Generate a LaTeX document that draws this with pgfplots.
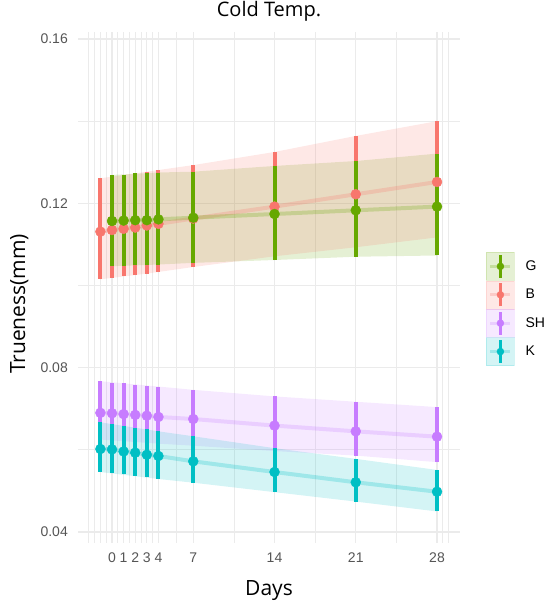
\documentclass[border=0pt]{standalone}
\usepackage{fontspec}
\setmainfont{Liberation Sans}
\newfontfamily\labfont{Open Sans}
\usepackage{pgfplots}
\pgfplotsset{compat=1.18}
\usepackage{pgfplotstable}

\definecolor{cG}{HTML}{66A800}
\definecolor{cB}{HTML}{F8766D}
\definecolor{cSH}{HTML}{C77CFF}
\definecolor{cK}{HTML}{00BFC4}
\definecolor{gridc}{HTML}{EBEBEB}
\definecolor{tickc}{HTML}{555555}

% point ranges: x, estimate, lower, upper
\pgfplotstableread{
x y lo hi
0 0.1157 0.1047 0.1269
1 0.1158 0.1048 0.1270
2 0.1159 0.1049 0.1273
3 0.1159 0.1050 0.1274
4 0.1161 0.1051 0.1275
7 0.1165 0.1055 0.1277
14 0.1174 0.1062 0.1291
21 0.1183 0.1070 0.1303
28 0.1192 0.1073 0.1321
}\tabG

\pgfplotstableread{
x y lo hi
-1 0.1131 0.1015 0.1261
0 0.1135 0.1019 0.1265
1 0.1138 0.1023 0.1269
2 0.1141 0.1026 0.1273
3 0.1146 0.1029 0.1277
4 0.1150 0.1032 0.1281
7 0.1163 0.1045 0.1293
14 0.1192 0.1071 0.1325
21 0.1222 0.1093 0.1364
28 0.1252 0.1117 0.1400
}\tabB

\pgfplotstableread{
x y lo hi
-1 0.0690 0.0625 0.0767
0 0.0689 0.0624 0.0763
1 0.0687 0.0622 0.0762
2 0.0685 0.0620 0.0759
3 0.0683 0.0618 0.0756
4 0.0680 0.0615 0.0754
7 0.0675 0.0610 0.0746
14 0.0659 0.0597 0.0730
21 0.0645 0.0586 0.0717
28 0.0632 0.0570 0.0704
}\tabSH

\pgfplotstableread{
x y lo hi
-1 0.0602 0.0546 0.0667
0 0.0601 0.0543 0.0663
1 0.0596 0.0541 0.0659
2 0.0593 0.0537 0.0654
3 0.0588 0.0533 0.0650
4 0.0585 0.0529 0.0645
7 0.0572 0.0520 0.0633
14 0.0546 0.0497 0.0604
21 0.0521 0.0474 0.0578
28 0.0498 0.0450 0.0551
}\tabK

% confidence bands as closed outlines (lower edge forward, upper edge back)
\pgfplotstableread{
x v
0 0.1047
4 0.1051
7 0.1055
14 0.1062
21 0.1070
28 0.1073
28 0.1321
21 0.1303
14 0.1291
7 0.1277
4 0.1275
0 0.1269
}\bandG

\pgfplotstableread{
x v
-1 0.1015
3 0.1029
7 0.1045
14 0.1071
21 0.1093
28 0.1117
28 0.1400
21 0.1364
14 0.1325
7 0.1293
3 0.1277
-1 0.1261
}\bandB

\pgfplotstableread{
x v
-1 0.0625
4 0.0615
7 0.0610
14 0.0597
21 0.0586
28 0.0570
28 0.0704
21 0.0717
14 0.0730
7 0.0746
4 0.0754
-1 0.0767
}\bandSH

\pgfplotstableread{
x v
-1 0.0546
4 0.0529
7 0.0520
14 0.0497
21 0.0474
28 0.0450
28 0.0551
21 0.0578
14 0.0604
7 0.0633
4 0.0645
-1 0.0667
}\bandK

\newcommand{\band}[2]{%
\addplot[fill=c#1, fill opacity=0.17, draw=none, forget plot] table[x=x,y=v]{#2} -- cycle;
}
\newcommand{\trend}[2]{%
\addplot[c#1, line width=4pt, opacity=0.25, forget plot] table[x=x,y=y]{#2};
}
\newcommand{\prange}[2]{%
\addplot[c#1, only marks, mark=*, mark size=5pt, mark options={draw=c#1, fill=c#1}, forget plot,
  error bars/.cd, y dir=both, y explicit, error mark=none,
  error bar style={line width=4pt, c#1}]
  table[x=x, y=y, y error plus expr=\thisrow{hi}-\thisrow{y}, y error minus expr=\thisrow{y}-\thisrow{lo}]{#2};
}
\newcommand{\legkey}[1]{%
\addlegendimage{legend image code/.code={%
 \fill[#1, opacity=0.17] (0pt,-14pt) rectangle (28pt,14pt);
 \draw[#1, opacity=0.25, line width=3pt] (4pt,0pt) -- (24pt,0pt);
 \draw[#1, line width=2.5pt] (14pt,-11.5pt) -- (14pt,11.5pt);
 \fill[#1] (14pt,0pt) circle (3.5pt);}}}

\begin{document}
\begin{tikzpicture}
\path[use as bounding box] (0pt,0pt) rectangle (550pt,-607pt);
\begin{axis}[
  at={(78pt,-32pt)}, anchor=north west,
  scale only axis, width=382pt, height=511pt,
  xmin=-2.93, xmax=29.98, ymin=0.03732, ymax=0.1617,
  axis line style={draw=none},
  major tick length=0pt, minor tick length=0pt,
  xtick={0,1,2,3,4,7,14,21,28},
  xticklabels={0,1,2,3,4,7,14,21,28},
  minor xtick={-2,-1.5,-1,-0.5,0.5,1.5,2.5,3.5,5.5,10.5,17.5,24.5,28.5,29},
  ytick={0.04,0.08,0.12,0.16},
  yticklabels={0.04,0.08,0.12,0.16},
  minor ytick={0.06,0.10,0.14},
  grid=both,
  major grid style={draw=gridc, line width=1.1pt},
  minor grid style={draw=gridc, line width=0.7pt},
  ticklabel style={font=\fontsize{14}{16}\selectfont, color=tickc, inner sep=0pt},
  xticklabel style={anchor=north, yshift=-10pt},
  yticklabel style={anchor=east, xshift=-10pt},
  title={Cold Temp.},
  title style={font=\labfont\fontsize{20}{24}\selectfont, at={(axis description cs:0.5,1.0182)}, anchor=base, inner sep=0pt},
  xlabel={Days},
  xlabel style={font=\labfont\fontsize{21}{25}\selectfont, at={(axis description cs:0.5,-0.1037)}, anchor=base, inner sep=0pt},
  ylabel={Trueness(mm)},
  ylabel style={font=\labfont\fontsize{21}{25}\selectfont, at={(axis description cs:-0.1387,0.468)}, anchor=base, inner sep=0pt},
  legend style={at={(axis description cs:1.0681,0.5695)}, anchor=north west, draw=none, fill=none,
    inner sep=0pt, row sep=0pt, column sep=11pt, font=\fontsize{14}{16}\selectfont,
    nodes={inner sep=0pt}},
  legend cell align=left,
]
\legkey{cG}
\legkey{cB}
\legkey{cSH}
\legkey{cK}
\band{G}{\bandG}
\band{B}{\bandB}
\band{SH}{\bandSH}
\band{K}{\bandK}
\trend{B}{\tabB}
\trend{G}{\tabG}
\trend{SH}{\tabSH}
\trend{K}{\tabK}
\prange{B}{\tabB}
\prange{G}{\tabG}
\prange{SH}{\tabSH}
\prange{K}{\tabK}
\legend{G,B,SH,K}
\end{axis}
\end{tikzpicture}
\end{document}
